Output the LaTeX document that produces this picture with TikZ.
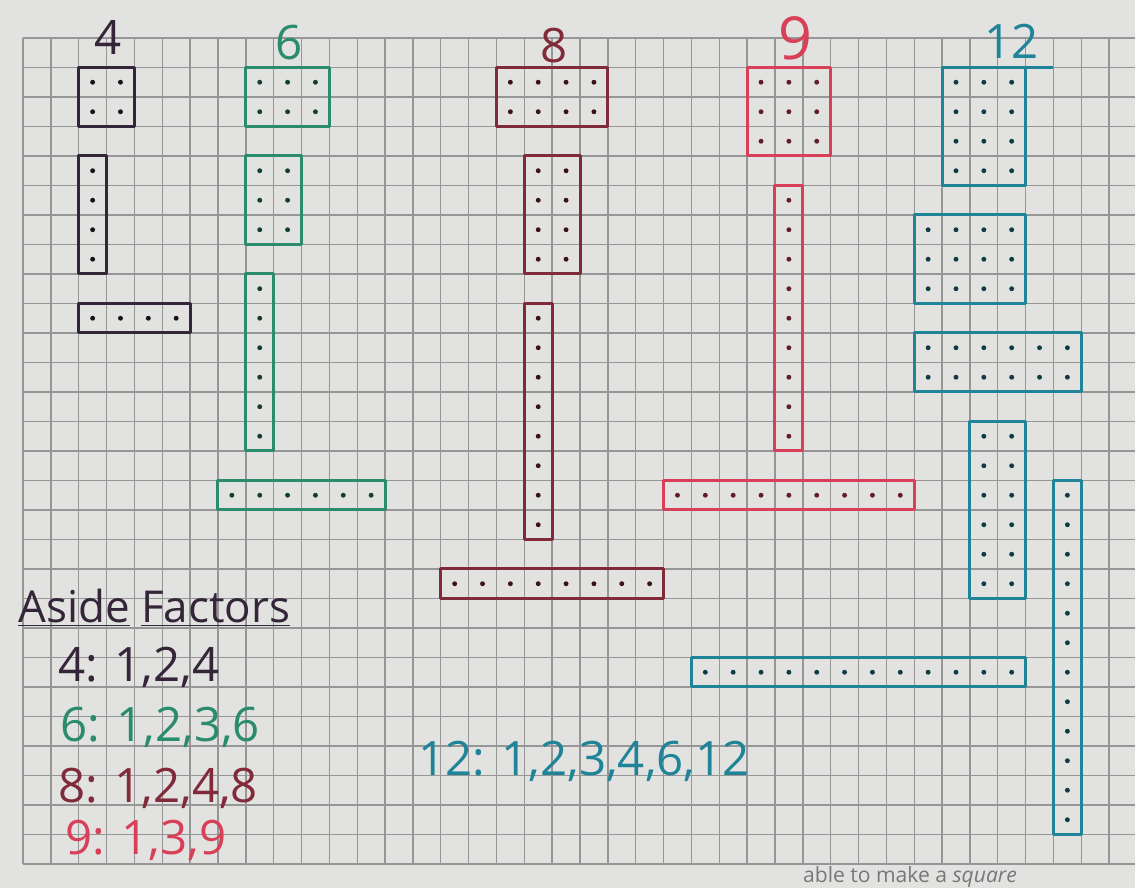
\documentclass[tikz,border=0pt]{standalone}
\usepackage{fontspec}
\setmainfont{Open Sans}
\usepackage{xcolor}
\definecolor{paper}{RGB}{226,226,224}
\definecolor{gridgray}{RGB}{150,150,150}
\definecolor{inkfour}{RGB}{52,38,56}
\definecolor{inksix}{RGB}{42,140,106}
\definecolor{inkeight}{RGB}{128,42,58}
\definecolor{inknine}{RGB}{216,64,88}
\definecolor{inktwelve}{RGB}{32,132,152}
\definecolor{printgray}{RGB}{120,120,120}
\usepackage{tikz}

% one array: column, row, columns, rows, colour
\newcommand{\factorrect}[5]{%
  \draw[box, #5] (#1,#2) rectangle ++(#3,#4);
  \foreach \i in {1,...,#3}
    \foreach \j in {1,...,#4}
      \fill[#5!45!black] ({#1+\i-0.5},{#2+\j-0.5}) circle (1.4pt);
}

\begin{document}
\begin{tikzpicture}[x=0.557cm, y=-0.59cm,
    box/.style={line width=1.7pt, line join=round},
    gridline/.style={gridgray, line width=0.8pt},
    every node/.style={font=\fontsize{27}{30}\selectfont, inner sep=0pt}]
  % paper
  \useasboundingbox (-0.826,-1.288) rectangle (39.928,28.814);
  \clip (-0.826,-1.288) rectangle (39.928,28.814);
  \fill[paper] (-0.826,-1.288) rectangle (39.928,28.814);

  % graph paper
  \foreach \c in {0,...,40} \draw[gridline] (\c,0) -- (\c,28);
  \foreach \r in {0,...,28} \draw[gridline] (0,\r) -- (40,\r);

  % column headings
  \node[text=inkfour] (lbl4) at (3.05,-0.03) {4};
  \node[text=inksix] (lbl6) at (9.55,0.14) {6};
  \node[text=inkeight] (lbl8) at (19.07,0.24) {8};
  \node[text=inknine, scale=1.25] (lbl9) at (27.72,0) {9};
  \node[text=inktwelve] (lbl12) at (35.51,0.1) {12};

  % arrays for 4
  \factorrect{2}{1}{2}{2}{inkfour}
  \factorrect{2}{4}{1}{4}{inkfour}
  \factorrect{2}{9}{4}{1}{inkfour}

  % arrays for 6
  \factorrect{8}{1}{3}{2}{inksix}
  \factorrect{8}{4}{2}{3}{inksix}
  \factorrect{8}{8}{1}{6}{inksix}
  \factorrect{7}{15}{6}{1}{inksix}

  % arrays for 8
  \factorrect{17}{1}{4}{2}{inkeight}
  \factorrect{18}{4}{2}{4}{inkeight}
  \factorrect{18}{9}{1}{8}{inkeight}
  \factorrect{15}{18}{8}{1}{inkeight}

  % arrays for 9
  \factorrect{26}{1}{3}{3}{inknine}
  \factorrect{27}{5}{1}{9}{inknine}
  \factorrect{23}{15}{9}{1}{inknine}

  % arrays for 12
  \factorrect{33}{1}{3}{4}{inktwelve}
  \draw[box, inktwelve] (36,1) -- (37,1);
  \factorrect{32}{6}{4}{3}{inktwelve}
  \factorrect{32}{10}{6}{2}{inktwelve}
  \factorrect{34}{13}{2}{6}{inktwelve}
  \factorrect{24}{21}{12}{1}{inktwelve}
  \factorrect{37}{15}{1}{12}{inktwelve}

  % factor lists
  \node[anchor=base west, text=inkfour, font=\fontsize{25}{28}\selectfont] (aside) at (-0.18,19.8) {\underline{Aside}~\underline{Factors}};
  \node[anchor=base west, text=inkfour] (list4) at (1.26,21.83) {4: 1,2,4};
  \node[anchor=base west, text=inksix] (list6) at (1.33,23.86) {6: 1,2,3,6};
  \node[anchor=base west, text=inkeight] (list8) at (1.26,25.9) {8: 1,2,4,8};
  \node[anchor=base west, text=inknine] (list9) at (1.51,27.69) {9: 1,3,9};
  \node[anchor=base west, text=inktwelve] (list12) at (14.18,25.0) {12: 1,2,3,4,6,12};

  % printed line below the grid
  \node[anchor=north west, text=printgray, font=\fontsize{12}{14}\selectfont] (printline) at (28.0,28.07) {able to make a \textit{square}};
\end{tikzpicture}
\end{document}
